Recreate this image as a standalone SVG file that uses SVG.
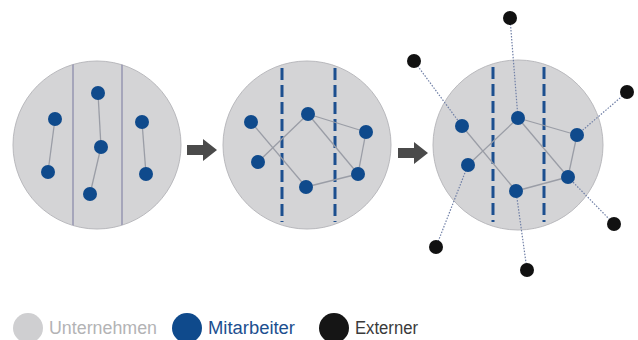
<svg xmlns="http://www.w3.org/2000/svg" width="638" height="340" viewBox="0 0 638 340">
  <defs>
    <style>
      .org { fill: #d4d4d6; stroke: #b9b9bd; stroke-width: 1; }
      .wall { stroke: #8c8cab; stroke-width: 1.3; fill: none; }
      .dash { stroke: #1c4f8f; stroke-width: 3; stroke-dasharray: 12 5; fill: none; }
      .link { stroke: #9a9da6; stroke-width: 1.3; fill: none; }
      .ext { stroke: #6f7fa6; stroke-width: 1.2; stroke-dasharray: 1.5 1.5; fill: none; }
      .emp { fill: #0f4a8c; }
      .out { fill: #111111; }
      .step { fill: #4a4a4a; }
      .lbl { font-family: "Liberation Sans", Arial, sans-serif; font-size: 18px; }
    </style>
    <clipPath id="c1"><circle cx="97" cy="145" r="84"/></clipPath>
    <polygon id="arrow" points="0,-5 16,-5 16,-11 30,0 16,11 16,5 0,5"/>
  </defs>

  <!-- Stage 1: separated departments -->
  <g id="stage1">
    <circle class="org" cx="97" cy="145" r="84"/>
    <g clip-path="url(#c1)">
      <line class="wall" x1="73" y1="50" x2="73" y2="240"/>
      <line class="wall" x1="122" y1="50" x2="122" y2="240"/>
    </g>
  </g>

  <!-- Stage 2: permeable departments -->
  <g id="stage2">
    <circle class="org" cx="307" cy="145" r="84"/>
    <line class="dash" x1="282" y1="68" x2="282" y2="222"/>
    <line class="dash" x1="335" y1="68" x2="335" y2="222"/>
  </g>

  <!-- Stage 3: open organisation -->
  <g id="stage3">
    <circle class="org" cx="518" cy="145" r="85"/>
    <line class="dash" x1="493" y1="67" x2="493" y2="222"/>
    <line class="dash" x1="544" y1="67" x2="544" y2="222"/>
  </g>

  <!-- Transitions -->
  <g id="arrows">
    <use href="#arrow" class="step" x="187" y="150"/>
    <use href="#arrow" class="step" x="398" y="153"/>
  </g>

  <!-- Connections -->
  <g id="connectors">
    <line class="link" x1="55" y1="119" x2="48" y2="172"/>
    <line class="link" x1="98" y1="93" x2="101" y2="147"/>
    <line class="link" x1="101" y1="147" x2="90" y2="194"/>
    <line class="link" x1="142" y1="122" x2="146" y2="174"/>

    <line class="link" x1="251" y1="122" x2="306" y2="187"/>
    <line class="link" x1="258" y1="162" x2="308" y2="114"/>
    <line class="link" x1="308" y1="114" x2="366" y2="132"/>
    <line class="link" x1="308" y1="114" x2="358" y2="174"/>
    <line class="link" x1="366" y1="132" x2="358" y2="174"/>
    <line class="link" x1="306" y1="187" x2="358" y2="174"/>

    <line class="link" x1="462" y1="126" x2="516" y2="191"/>
    <line class="link" x1="468" y1="165" x2="518" y2="118"/>
    <line class="link" x1="518" y1="118" x2="577" y2="135"/>
    <line class="link" x1="518" y1="118" x2="568" y2="177"/>
    <line class="link" x1="577" y1="135" x2="568" y2="177"/>
    <line class="link" x1="516" y1="191" x2="568" y2="177"/>

    <line class="ext" x1="414" y1="61" x2="462" y2="126"/>
    <line class="ext" x1="510" y1="18" x2="518" y2="118"/>
    <line class="ext" x1="627" y1="92" x2="577" y2="135"/>
    <line class="ext" x1="614" y1="224" x2="568" y2="177"/>
    <line class="ext" x1="527" y1="270" x2="516" y2="191"/>
    <line class="ext" x1="436" y1="247" x2="468" y2="165"/>
  </g>

  <!-- Employees -->
  <g id="employees">
    <circle class="emp" cx="55" cy="119" r="7"/>
    <circle class="emp" cx="48" cy="172" r="7"/>
    <circle class="emp" cx="98" cy="93" r="7"/>
    <circle class="emp" cx="101" cy="147" r="7"/>
    <circle class="emp" cx="90" cy="194" r="7"/>
    <circle class="emp" cx="142" cy="122" r="7"/>
    <circle class="emp" cx="146" cy="174" r="7"/>

    <circle class="emp" cx="251" cy="122" r="7"/>
    <circle class="emp" cx="258" cy="162" r="7"/>
    <circle class="emp" cx="308" cy="114" r="7"/>
    <circle class="emp" cx="366" cy="132" r="7"/>
    <circle class="emp" cx="306" cy="187" r="7"/>
    <circle class="emp" cx="358" cy="174" r="7"/>

    <circle class="emp" cx="462" cy="126" r="7"/>
    <circle class="emp" cx="468" cy="165" r="7"/>
    <circle class="emp" cx="518" cy="118" r="7"/>
    <circle class="emp" cx="577" cy="135" r="7"/>
    <circle class="emp" cx="516" cy="191" r="7"/>
    <circle class="emp" cx="568" cy="177" r="7"/>
  </g>

  <!-- External partners -->
  <g id="externals">
    <circle class="out" cx="414" cy="61" r="7"/>
    <circle class="out" cx="510" cy="18" r="7"/>
    <circle class="out" cx="627" cy="92" r="7"/>
    <circle class="out" cx="614" cy="224" r="7"/>
    <circle class="out" cx="527" cy="270" r="7"/>
    <circle class="out" cx="436" cy="247" r="7"/>
  </g>

  <!-- Legend -->
  <g id="legend">
    <circle cx="28" cy="328" r="15" fill="#cfcfd1"/>
    <text class="lbl" x="49" y="334" fill="#b3b3b5" textLength="108" lengthAdjust="spacingAndGlyphs">Unternehmen</text>
    <circle cx="187" cy="328" r="15" fill="#0f4a8c"/>
    <text class="lbl" x="208" y="334" fill="#1c4f8f" textLength="87" lengthAdjust="spacingAndGlyphs">Mitarbeiter</text>
    <circle cx="334" cy="328" r="15" fill="#151515"/>
    <text class="lbl" x="355" y="334" fill="#3a3a3a" textLength="63" lengthAdjust="spacingAndGlyphs">Externer</text>
  </g>
</svg>
